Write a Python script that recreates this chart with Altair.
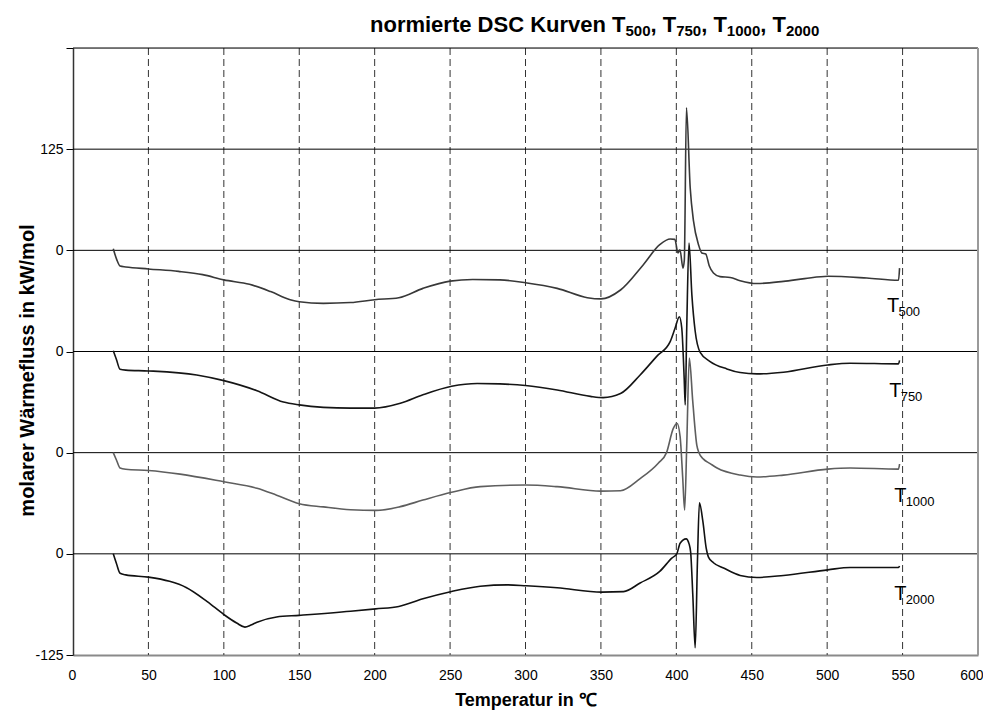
import altair as alt
import pandas as pd

# ---------------- data ----------------
curve_names = ["T500", "T750", "T1000", "T2000"]
curve_offsets = [375, 250, 125, 0]          # vertical stacking of the normalised curves
curve_colors = ["#383838", "#151515", "#5e5e5e", "#111111"]

temp_T500 = [26.7, 29.0, 31.2, 35, 50, 70, 86, 100, 117, 131, 144, 150, 166, 184, 200, 216, 232, 250, 265, 283,
             300, 321, 341, 350, 363, 378, 389, 396, 399, 401.1, 402.4, 404.4, 405.3, 406.7, 409.2, 411.4, 414.7,
             416.9, 419.5, 421.8, 424.6, 429, 435.7, 442.3, 453.4, 471, 485, 500.4, 526.3, 547.3, 548]
flow_T500 = [2, -11.5, -19.4, -20.5, -23, -26, -30, -36.5, -42, -51, -61, -63.5, -65.5, -64.5, -61, -58.5, -47, -38,
             -36, -36.5, -40, -47, -58.5, -60, -49, -18, 7, 14, 13.5, -3.3, 0.7, -22, -12, 176, 77, 36, 7,
             -3.3, -4.6, -19, -28, -32.5, -33.5, -37.5, -41, -38.3, -35, -32, -34.2, -37, -22]

temp_T750 = [26.7, 28.8, 31.2, 35, 50, 82, 100, 122, 139.5, 150, 166, 184, 200, 217, 232, 251, 268, 283, 300, 321,
             343, 351.5, 363, 376, 387, 396, 399.2, 402, 403.6, 405.2, 405.9, 406.9, 408.4, 410.3, 412.5, 415.8,
             422.4, 433.5, 442.3, 453.4, 471, 500.4, 515.2, 547.3, 548]
flow_T750 = [1, -10, -22, -23, -24, -29, -36, -48.5, -62.5, -66, -69, -70, -70, -64, -53.5, -43, -39.5, -40, -42,
             -47.5, -55.5, -57, -52, -29, -6, 12.5, 29, 43, 29, -33, -66, 29, 134, 70, 25, -1,
             -12.4, -21.5, -26, -27.7, -25.6, -16.6, -14.5, -15.3, -11]

temp_T1000 = [26.7, 28.8, 31.2, 35, 50, 71, 100, 122, 135, 150, 166, 184, 201, 217, 232, 251, 270, 300, 321, 350,
              363, 376, 388, 393.5, 398, 400.5, 402.5, 404.2, 405.5, 406.9, 408.6, 410.9, 413.6, 415, 418, 422.4,
              427, 442.3, 453.4, 471, 500.4, 515.2, 547.3, 548]
flow_T1000 = [0, -9, -19, -20.5, -22, -26.5, -36, -44, -52.5, -63, -67, -70.5, -71.3, -66.7, -58.6, -49, -42, -40,
              -42, -47.5, -47, -32, -13, 0, 30, 36, 20, -30, -71, 9, 117, 63, 9, 0, -8, -13.5,
              -19, -27.7, -30, -27.7, -20.3, -19, -20.3, -14]

temp_T2000 = [26.7, 28.8, 31.2, 35, 50, 64, 75, 89, 100, 108.5, 114, 118, 122, 135, 150, 184, 200.7, 216, 232, 251,
              270, 288, 300.6, 321, 350.6, 365, 376, 389, 397, 400.3, 402.5, 406.5, 408.5, 409.5, 410.9, 412.5,
              414, 415.3, 417.6, 419.8, 421.3, 424.6, 431.3, 442.3, 453.4, 471, 500.4, 515.2, 547.3, 548]
flow_T2000 = [0, -12, -24, -26, -28.8, -34, -41.5, -59, -75, -85.5, -90.5, -88, -84.5, -78, -76, -71, -68, -65,
              -55.6, -46.5, -40, -38.3, -39.5, -42, -47.3, -46.7, -36, -21.7, -5.3, 0, 13, 18.5, 12, 2, -50, -116,
              -9, 63, 40, 7, -4, -11, -17.5, -26.7, -29.2, -26.7, -19.8, -16.8, -16.8, -15]

x_ticks = list(range(0, 601, 50))
v_grid = list(range(50, 551, 50))
y_ticks = [-125, 0, 125, 250, 375, 500, 625]
h_grid = [0, 125, 250, 375, 500, 625]

label_main = ["T", "T", "T", "T"]
label_sub = ["500", "750", "1000", "2000"]
label_temp = [539.6, 541.1, 544.4, 544.4]
label_flow = [-75.8, -55.8, -60.6, -57.0]

title_parts = [("normierte DSC Kurven T", False), ("500", True), (", T", False), ("750", True),
               (", T", False), ("1000", True), (", T", False), ("2000", True)]

# ---------------- build tables ----------------
temps = [temp_T500, temp_T750, temp_T1000, temp_T2000]
flows = [flow_T500, flow_T750, flow_T1000, flow_T2000]
rows = []
for name, off, ts, fs in zip(curve_names, curve_offsets, temps, flows):
    for i, (t, f) in enumerate(zip(ts, fs)):
        rows.append({"curve": name, "idx": i, "temp": t, "flow": f + off})
df = pd.DataFrame(rows)

lab = pd.DataFrame({"curve": curve_names, "main": label_main, "sub": label_sub,
                    "temp": label_temp,
                    "flow": [f + o for f, o in zip(label_flow, curve_offsets)]})

FONT = "Liberation Sans"
xscale = alt.Scale(domain=[0, 600], nice=False, zero=False)
yscale = alt.Scale(domain=[-125, 625], nice=False, zero=False)

label_expr = ("datum.value == -125 ? '-125' : datum.value == 500 ? '125' : "
              "datum.value == 625 ? '' : '0'")

x_axis = alt.Axis(
    values=x_ticks, grid=False, ticks=False, tickSize=0, labelPadding=13,
    labelFlush=True, labelFlushOffset=5, labelOverlap=False, labelFontSize=14, labelColor="black",
    labelFont=FONT, domainColor="#8a8a8a", domainWidth=2,
    title="Temperatur in ℃", titleFontSize=18, titleFontWeight="bold", titleFont=FONT,
    titleColor="black", titleY=50, titleBaseline="alphabetic")
y_axis = alt.Axis(
    values=y_ticks, labelExpr=label_expr, grid=False, tickSize=7, tickColor="black",
    labelPadding=3, labelFontSize=14, labelColor="black", labelFont=FONT,
    domainColor="#333333", domainWidth=1.5, labelOverlap=False,
    title="molarer Wärmefluss in kW/mol", titleFontSize=20, titleFontWeight="bold",
    titleFont=FONT, titleColor="black", titleAngle=270, titleX=-40, titleY=322,
    titleAlign="center", titleBaseline="alphabetic")

X = alt.X("temp:Q", scale=xscale, axis=x_axis)
Y = alt.Y("flow:Q", scale=yscale, axis=y_axis)

lines = alt.Chart(df).mark_line(strokeWidth=1.6, interpolate="monotone").encode(
    x=X, y=Y,
    color=alt.Color("curve:N", scale=alt.Scale(domain=curve_names, range=curve_colors), legend=None),
    order=alt.Order("idx:Q"),
)

vgrid = alt.Chart(pd.DataFrame({"temp": v_grid})).mark_rule(
    color="#333333", strokeDash=[7, 4], strokeWidth=1).encode(x=X)

hgrid = alt.Chart(pd.DataFrame({"flow": h_grid})).mark_rule(
    color="black", strokeWidth=1).encode(y=Y)

right_border = alt.Chart(pd.DataFrame({"temp": [600]})).mark_rule(
    color="#9a9a9a", strokeWidth=2).encode(x=X)

lab_T = alt.Chart(lab).mark_text(font=FONT, fontSize=20, align="left", baseline="alphabetic",
                                 color="black").encode(x=X, y=Y, text="main:N")
lab_sub = alt.Chart(lab).mark_text(font=FONT, fontSize=13, align="left", baseline="alphabetic",
                                   dx=11.5, dy=4, color="black").encode(x=X, y=Y, text="sub:N")

# ----- composed title with subscripts (layout in pixels relative to plot area) -----
ARIAL_BOLD = {"n": .611, "o": .611, "r": .389, "m": .889, "i": .278, "e": .556, "t": .333, " ": .278,
              "D": .722, "S": .667, "C": .722, "K": .722, "u": .611, "v": .556, "T": .611, ",": .278}
MAIN_SIZE, SUB_SIZE = 22, 15


def text_width(s, size):
    return sum(ARIAL_BOLD.get(c, .556) for c in s) * size


title_layers = []
cursor = 297.0
one = pd.DataFrame({"a": [0]})
for txt, is_sub in title_parts:
    size = SUB_SIZE if is_sub else MAIN_SIZE
    ypos = -12.5 if is_sub else -16
    title_layers.append(
        alt.Chart(one).mark_text(font=FONT, fontSize=size, fontWeight="bold", align="left",
                                 baseline="alphabetic", color="black").encode(
            x=alt.value(cursor), y=alt.value(ypos), text=alt.value(txt)))
    cursor += text_width(txt, size)

chart = alt.layer(vgrid, hgrid, right_border, lines, lab_T, lab_sub, *title_layers).properties(
    width=905, height=607,
    autosize=alt.AutoSizeParams(type="none"),
    padding={"left": 65, "top": 40, "right": 5, "bottom": 55},
).configure_view(stroke=None).configure(font=FONT)

chart.save("out.html", embed_options={"renderer": "svg", "actions": False})
